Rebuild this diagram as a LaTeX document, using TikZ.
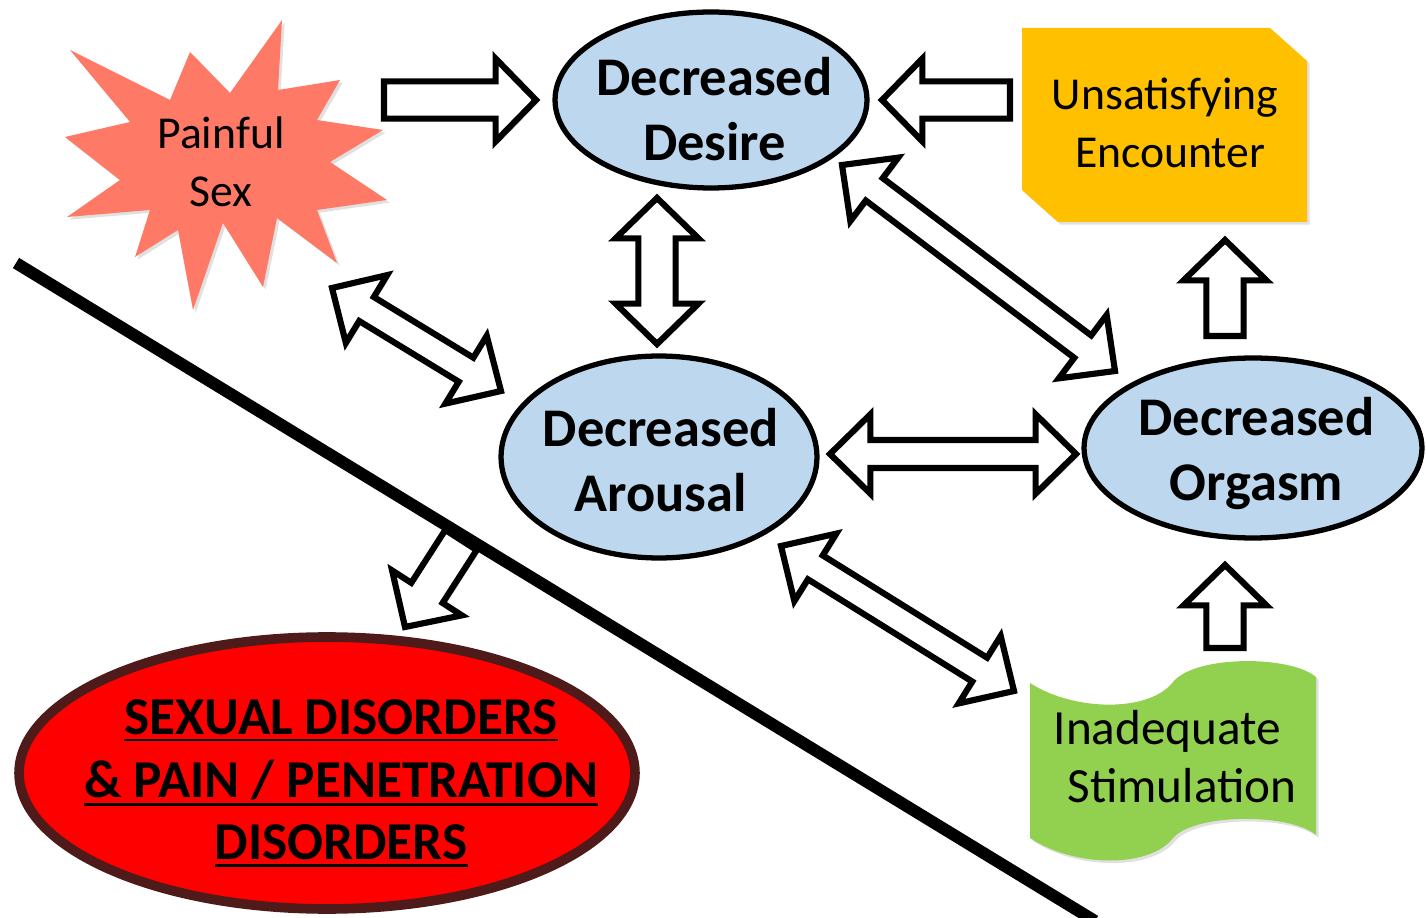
\documentclass[tikz,border=0pt]{standalone}
\usepackage{fontspec}
\setmainfont{Carlito}
\usetikzlibrary{calc,shapes.geometric,shadows}

\definecolor{descblue}{HTML}{BDD7EE}
\definecolor{painred}{HTML}{FF7A66}
\definecolor{encgold}{HTML}{FFC000}
\definecolor{stimgreen}{HTML}{92D050}
\definecolor{disred}{HTML}{FF0000}
\definecolor{disbrown}{HTML}{4E1A1A}

% thick underline for the disorder lines
\newcommand\undl[1]{\leavevmode\vtop{\hbox{#1}\kern2.2pt\hrule height 1.4pt}}

% sizes of the block arrows
\newcommand\shaftw{10pt}
\newcommand\headw{24pt}
\newcommand\headl{23pt}
\tikzset{
	blk shaft/.store in=\shaftw,
	blk head/.store in=\headw,
	blk len/.store in=\headl,
}

\begin{document}
\begin{tikzpicture}[x=0.02cm, y=-0.02cm]
	\tikzstyle{state} = [
		draw, line width=3pt, fill=descblue,
		ellipse, inner sep=0pt];
	\tikzstyle{bold txt} = [
		font={\fontsize{31}{37}\selectfont\bfseries}, align=center];
	\tikzstyle{alarm txt} = [
		font={\fontsize{30.3}{35.7}\selectfont\bfseries}, align=center];
	\tikzstyle{plain txt} = [
		font={\fontsize{26}{33}\selectfont}, align=center, inner sep=0pt];
	\tikzstyle{soft} = [
		drop shadow={shadow xshift=1.5pt, shadow yshift=-1.5pt,
			opacity=0.2, fill=black!60}];

	\tikzstyle{blk} = [
		draw=black, fill=white, line width=3.5pt, line join=miter, soft];
	\tikzstyle{wide} = [blk shaft=10.6pt, blk head=23.6pt, blk len=23pt];
	\tikzstyle{slim} = [blk shaft=8pt, blk head=22.6pt, blk len=23pt];
	\tikzstyle{one way} = [blk,
		to path={let \p1=(\tikztostart), \p2=(\tikztotarget),
			\n1={atan2(\y2-\y1,\x2-\x1)}, \n2={veclen(\x2-\x1,\y2-\y1)} in
			($(\p1)+({\n1+90}:\shaftw)$)
			-- ($(\p1)+(\n1:{\n2-\headl})+({\n1+90}:\shaftw)$)
			-- ($(\p1)+(\n1:{\n2-\headl})+({\n1+90}:\headw)$)
			-- (\p2)
			-- ($(\p1)+(\n1:{\n2-\headl})+({\n1-90}:\headw)$)
			-- ($(\p1)+(\n1:{\n2-\headl})+({\n1-90}:\shaftw)$)
			-- ($(\p1)+({\n1-90}:\shaftw)$) -- cycle}];
	\tikzstyle{two way} = [blk,
		to path={let \p1=(\tikztostart), \p2=(\tikztotarget),
			\n1={atan2(\y2-\y1,\x2-\x1)}, \n2={veclen(\x2-\x1,\y2-\y1)} in
			(\p1)
			-- ($(\p1)+(\n1:\headl)+({\n1+90}:\headw)$)
			-- ($(\p1)+(\n1:\headl)+({\n1+90}:\shaftw)$)
			-- ($(\p1)+(\n1:{\n2-\headl})+({\n1+90}:\shaftw)$)
			-- ($(\p1)+(\n1:{\n2-\headl})+({\n1+90}:\headw)$)
			-- (\p2)
			-- ($(\p1)+(\n1:{\n2-\headl})+({\n1-90}:\headw)$)
			-- ($(\p1)+(\n1:{\n2-\headl})+({\n1-90}:\shaftw)$)
			-- ($(\p1)+(\n1:\headl)+({\n1-90}:\shaftw)$)
			-- ($(\p1)+(\n1:\headl)+({\n1-90}:\headw)$) -- cycle}];

	\useasboundingbox (0,0) rectangle (1426,918);

	% shapes behind the texts
	\fill[painred, soft] (70,50) -- (170,100) -- (190,52) -- (230,93)
		-- (282,20) -- (278,90) -- (340,80) -- (317,120) -- (383,130)
		-- (330,162) -- (387,200) -- (317,210) -- (337,263) -- (277,218)
		-- (263,287) -- (223,223) -- (193,310) -- (178,230) -- (135,257)
		-- (150,210) -- (67,217) -- (120,180) -- (65,137) -- (130,122) -- cycle;
	\fill[encgold, soft] (1022,28) -- (1270,28) -- (1307,61) -- (1307,222)
		-- (1058,222) -- (1022,190) -- cycle;
	\fill[stimgreen, soft] (1030,683) .. controls (1075,712) and (1150,712) .. (1173,682)
		.. controls (1195,655) and (1290,655) .. (1316,677) -- (1316,835)
		.. controls (1290,813) and (1195,813) .. (1173,838)
		.. controls (1150,868) and (1075,868) .. (1030,838) -- cycle;

	\node[plain txt, minimum width=6.4cm, minimum height=5.8cm] (painful) at (221,162) {Painful\\Sex};
	\node[plain txt, minimum width=5.7cm, minimum height=3.88cm] (unsat) at (1165,123) {Unsatisfying\\\hspace{6pt}Encounter};
	\node[plain txt, font={\fontsize{28}{33}\selectfont}, align=left,
		minimum width=5.7cm, minimum height=3.8cm] (stim) at (1175,757) {Inadequate\\\hspace{8pt}Stimulation};

	\node[state, minimum width=6.24cm, minimum height=3.52cm,
		label={[bold txt, xshift=2pt, yshift=-5pt]center:{Decreased\\Desire}}] (desire) at (711,100) {};
	\node[state, minimum width=6.32cm, minimum height=4.04cm,
		label={[bold txt, xshift=1pt, yshift=-2pt]center:{Decreased\\Arousal}}] (arousal) at (659,457) {};
	\node[state, minimum width=6.76cm, minimum height=3.6cm,
		label={[bold txt, xshift=2pt, yshift=-3.4pt]center:{Decreased\\Orgasm}}] (orgasm) at (1253,448) {};
	\node[ellipse, draw=disbrown, line width=5.5pt, fill=disred, inner sep=0pt,
		minimum width=12.32cm, minimum height=5.44cm,
		label={[alarm txt, xshift=8pt, yshift=-5.7pt]center:{\undl{SEXUAL DISORDERS}\\\undl{\& PAIN / PENETRATION}\\\undl{DISORDERS}}}] (disorders) at (327,773) {};

	\draw[one way, wide] ($(painful)+(163,-62)$) to ($(desire)+(-175,0)$);
	\draw[one way, wide] ($(unsat)+(-155,-23)$) to ($(desire)+(171,0)$);
	\draw[two way, wide] ($(desire)+(-54,98)$) to ($(arousal)+(-2,-113)$);
	\draw[two way, slim] ($(painful)+(111,126)$) to ($(arousal)+(-158,-66)$);
	\draw[two way, slim] ($(desire)+(131,65)$) to ($(orgasm)+(-138,-77)$);
	\draw[two way, slim] ($(arousal)+(171,-3)$) to ($(orgasm)+(-177,6)$);
	\draw[two way, slim] ($(arousal)+(122,89)$) to ($(stim)+(-161,-66)$);
	\draw[one way, wide] ($(orgasm)+(-28,-112)$) to ($(unsat)+(60,117)$);
	\draw[one way, wide] ($(stim)+(50,-109)$) to ($(orgasm)+(-28,117)$);
	\draw[one way, wide] ($(arousal)+(-198,83)$) to ($(disorders)+(78,-146)$);

	% dividing line
	\draw[line width=6.8pt] (16,263) -- (1095,921);
\end{tikzpicture}
\end{document}
